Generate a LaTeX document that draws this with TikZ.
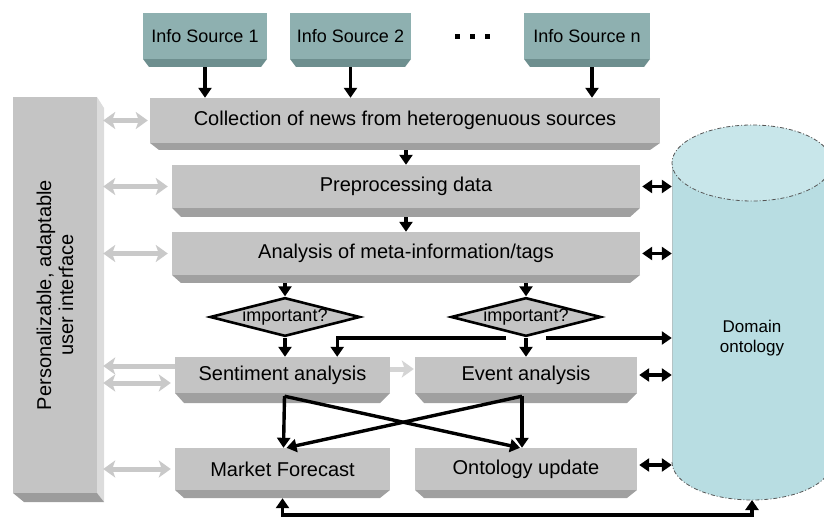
\documentclass[tikz,border=0pt]{standalone}
\usepackage{fontspec}
\setmainfont{Liberation Sans}
\usetikzlibrary{arrows.meta,shapes.geometric}
\definecolor{boxgrey}{HTML}{C4C4C4}
\definecolor{shgrey}{HTML}{A0A0A0}
\definecolor{tealface}{HTML}{8EB0B0}
\definecolor{tealshade}{HTML}{6E8F8F}
\definecolor{argrey}{HTML}{C9C9C9}
\definecolor{cylbody}{HTML}{B8DDE2}
\definecolor{cyltop}{HTML}{C8E6EA}
\definecolor{cyledge}{HTML}{555555}
\definecolor{panelside}{HTML}{DCDCDC}
\definecolor{panelbottom}{HTML}{9C9C9C}
\tikzset{
  boxface/.style={fill=boxgrey, inner sep=0pt, font=\fontsize{20}{23}\selectfont},
  srcface/.style={fill=tealface, inner sep=0pt, font=\fontsize{18}{21}\selectfont},
  decision/.style={diamond, draw=black, line width=2.6pt, fill=boxgrey, aspect=3.87,
    inner sep=0pt, minimum width=147pt, minimum height=38pt, font=\fontsize{18}{20}\selectfont},
  blk/.style={line width=3.4pt, -{Triangle[length=10pt,width=13pt]}},
  blkboth/.style={line width=3.4pt, {Triangle[length=10pt,width=13pt]}-{Triangle[length=10pt,width=13pt]}},
  garboth/.style={draw=argrey, line width=5pt,
    {Stealth[length=12pt,width=17pt,inset=3pt]}-{Stealth[length=12pt,width=17pt,inset=3pt]}},
  garleft/.style={draw=argrey, line width=5pt, {Stealth[length=12pt,width=17pt,inset=3pt]}-},
  garright/.style={draw=argrey!80, line width=5pt, -{Stealth[length=12pt,width=17pt,inset=3pt]}},
  cyldash/.style={draw=cyledge, line width=0.8pt, dash pattern=on 4pt off 2pt on 1pt off 2pt},
}
% name, x1, y1, x2, y2 (face bottom), y3 (shadow bottom), text
\newcommand\greybox[7]{%
  \fill[shgrey] (#2,#5) -- (#4,#5) -- ({#4-10},#6) -- ({#2+9},#6) -- cycle;
  \node[boxface, minimum width={(#4-#2)*1pt}, minimum height={(#5-#3)*1pt}]
    (#1) at ({(#2+#4)/2},{(#3+#5)/2}) {#7};
}
\newcommand\srcbox[7]{%
  \fill[tealshade] (#2,#5) -- (#4,#5) -- ({#4-6},#6) -- ({#2+6},#6) -- cycle;
  \node[srcface, minimum width={(#4-#2)*1pt}, minimum height={(#5-#3)*1pt}]
    (#1) at ({(#2+#4)/2},{(#3+#5)/2}) {#7};
}
\begin{document}
\begin{tikzpicture}[x=1pt,y=-1pt]
\useasboundingbox (0,0) rectangle (824,518);

% ---- cylinder (Domain ontology)
\begin{scope}
\clip (0,0) rectangle (824,518);
\fill[cylbody] (672,163) -- (672,462) arc[start angle=180,end angle=0,x radius=80,y radius=38] -- (832,163) -- cycle;
\draw[cyldash] (672,462) arc[start angle=180,end angle=0,x radius=80,y radius=38];
\draw[cylbody!70!black!60, line width=0.6pt] (672,163) -- (672,462);
\fill[cyltop] (752,163) ellipse[x radius=80,y radius=38];
\draw[cyldash] (752,163) ellipse[x radius=80,y radius=38];
\end{scope}
\node[inner sep=0pt, minimum width=160pt, minimum height=299pt] (onto) at (752,312.5) {};
\node[align=center, font=\fontsize{17}{20}\selectfont] (ontotext) at (752,338) {Domain\\ontology};
\coordinate (cylB) at (752,500);

% ---- info sources
\srcbox{src1}{143}{13}{267}{59}{67}{Info Source 1}
\srcbox{src2}{290}{13}{411}{59}{67}{Info Source 2}
\srcbox{srcn}{524}{13}{650}{59}{67}{Info Source n}
\foreach \dx in {457,472,487} \fill (\dx-2.5,34) rectangle (\dx+2.5,39);

% ---- left panel
\fill[panelside] (97,97) -- (104,108) -- (104,502) -- (97,493) -- cycle;
\fill[panelbottom] (13,493) -- (97,493) -- (104,502) -- (24,502) -- cycle;
\node[fill=boxgrey, inner sep=0pt, minimum width=84pt, minimum height=396pt] (ui) at (55,295) {};
\node[rotate=90, align=center, font=\fontsize{20}{22}\selectfont] (uitext) at (ui.center)
  {Personalizable, adaptable\\user interface};

% ---- process boxes
\greybox{col}{150}{98}{660}{143}{150}{Collection of news from heterogenuous sources}
\greybox{pre}{172}{165}{640}{208}{217}{Preprocessing data}
\greybox{ana}{172}{232}{640}{275}{283}{Analysis of meta-information/tags}
\greybox{sen}{175}{357}{390}{393}{403}{Sentiment analysis}
\greybox{evt}{415}{357}{637}{393}{403}{Event analysis}
\greybox{mkt}{175}{448}{390}{490}{498}{Market Forecast}
\greybox{upd}{415}{448}{637}{490}{498}{Ontology update}

% ---- decisions
\node[decision] (dL) at (285,317) {important?};
\node[decision] (dR) at (526,317) {important?};

% ---- black flow arrows
\draw[blk, shorten <=8pt] (src1.south) -- (src1.south |- col.north);
\draw[blk, shorten <=8pt] (src2.south) -- (src2.south |- col.north);
\coordinate (srcnOut) at ([xshift=5pt]srcn.south);
\draw[blk, shorten <=8pt] (srcnOut) -- (srcnOut |- col.north);
\draw[blk, shorten <=7pt] (pre.north |- col.south) -- (pre.north);
\draw[blk, shorten <=9pt] (ana.north |- pre.south) -- (ana.north);
\draw[blk, shorten <=8pt] (dL.north |- ana.south) -- (dL.north);
\draw[blk, shorten <=8pt] (dR.north |- ana.south) -- (dR.north);
\draw[blk] (dL.south) -- (dL.south |- sen.north);
\draw[blk] (dR.south) -- (dR.south |- evt.north);
\coordinate (br1) at (506,338);
\coordinate (br2) at (546,338);
\draw[blk] (br1) -| ([xshift=-53pt]sen.north east);
\draw[blk] (br2) -- (br2 -| onto.west);

% crossing arrows
\draw[blk] ([xshift=2pt,yshift=-3pt]sen.south) -- ([xshift=1pt]mkt.north);
\draw[blk] ([xshift=2pt,yshift=-3pt]sen.south) -- ([xshift=-6pt]upd.north);
\draw[blk] ([xshift=-4pt,yshift=-3pt]evt.south) -- ([xshift=-4pt]upd.north);
\draw[blk] ([xshift=-4pt,yshift=-3pt]evt.south) -- ([xshift=4pt]mkt.north);

% bottom feedback
\coordinate (bl) at (0,515);
\draw[blkboth, shorten <=8pt] (mkt.south) -- (mkt.south |- bl) -| (cylB);

% double arrows to the ontology
\draw[blkboth, shorten <=2pt] (pre.east) -- (pre.east -| onto.west);
\draw[blkboth, shorten <=2pt] (ana.east) -- (ana.east -| onto.west);
\draw[blkboth, shorten <=2pt] (evt.east) -- (evt.east -| onto.west);
\coordinate (updR) at ([yshift=4pt]upd.east);
\draw[blkboth, shorten <=2pt] (updR) -- (updR -| onto.west);

% ---- grey interface arrows
\coordinate (senA) at ([yshift=9pt]sen.west);
\coordinate (senB) at ([yshift=-8pt]sen.west);
\draw[garboth, shorten <=6pt, shorten >=2pt] (ui.east |- col.west) -- (col.west);
\draw[garboth, shorten <=6pt, shorten >=4pt] (ui.east |- pre.west) -- (pre.west);
\draw[garboth, shorten <=6pt, shorten >=4pt] (ui.east |- ana.west) -- (ana.west);
\draw[garleft, shorten <=6pt] (ui.east |- senA) -- (senA);
\draw[garboth, shorten <=6pt, shorten >=4pt] (ui.east |- senB) -- (senB);
\draw[garboth, shorten <=6pt, shorten >=4pt] (ui.east |- mkt.west) -- (mkt.west);
\coordinate (senC) at ([yshift=6pt]sen.east);
\draw[garright, shorten >=1pt] (senC) -- (senC -| evt.west);
\end{tikzpicture}
\end{document}
